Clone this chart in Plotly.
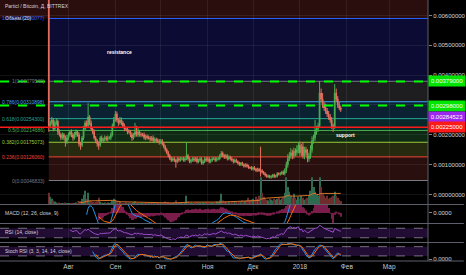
import numpy as np
import pandas as pd
import plotly.graph_objects as go

# ---------------- data (prices in 1e-5 BTC) ----------------
start_date = "2017-07-19"
first_open_e5 = 680
close_e5 = [
    230,
    240, 250, 220, 240, 245,
    210, 200, 190, 200, 190,
    175,
    190, 200, 210, 200, 190, 200, 210, 200,
    170, 165,
    190, 220, 240, 230,
    260,
    240, 220, 210, 190, 180, 170,
    165,
    190, 180, 185, 190, 185, 190, 190, 200,
    230, 250, 270,
    250, 240, 250, 240,
    230, 220, 220, 210, 210,
    200, 190, 200, 210, 200, 210, 200,
    200, 200, 190, 195, 190, 190, 185, 190, 180, 185, 180, 180, 175, 180,
    170, 160, 150, 140, 130, 120, 115,
    120, 115, 110, 120, 115, 120,
    120, 115, 120, 130, 120, 110, 115, 120, 115, 120, 110,
    115, 120, 105, 110, 120, 115, 120, 110, 115, 120,
    120, 115, 120, 120, 130, 138,
    130, 125, 130, 120, 125, 120,
    115, 110, 115, 110, 105, 100, 105, 100, 95, 100, 95, 90, 90,
    85, 90, 85, 80, 85, 80,
    80,
    75, 70, 65, 60, 62, 58, 60, 65, 60, 62,
    70, 68, 70, 75, 70, 80,
    100, 120, 130,
    140, 130, 145, 140,
    150, 165, 140, 160, 130, 150, 140,
    120, 130, 150,
    180, 190, 210,
    220, 230,
    340,
    320, 300, 290, 280,
    270, 260, 250,
    230, 225,
    340,
    320, 300, 290, 284.523,
]
upper_wick_e5 = [
    40, 8, 10, 6, 8, 10, 6, 8, 6, 8,
    6, 8, 10, 8, 6, 8, 6, 10, 8, 6,
    8, 6, 6, 10, 8, 8, 46, 6, 8, 6,
    8, 6, 6, 8, 6, 8, 6, 8, 6, 8,
    6, 8, 8, 10, 10, 8, 6, 10, 8, 6,
    8, 6, 6, 8, 6, 8, 6, 30, 20, 15,
    6, 8, 6, 8, 6, 6, 8, 6, 6, 8,
    6, 6, 8, 6, 6, 6, 5, 6, 5, 6,
    5, 6, 5, 6, 5, 6, 5, 6, 5, 6,
    5, 45, 6, 5, 6, 5, 6, 5, 6, 5,
    6, 5, 6, 5, 6, 5, 6, 5, 6, 5,
    6, 5, 6, 5, 8, 6, 5, 6, 5, 6,
    5, 6, 5, 6, 5, 4, 5, 4, 5, 4,
    5, 4, 5, 4, 5, 4, 5, 4, 5, 4,
    80, 5, 4, 5, 4, 5, 4, 5, 4, 5,
    4, 5, 4, 5, 4, 6, 8, 10, 15, 12,
    15, 10, 12, 10, 15, 10, 12, 10, 15, 10,
    10, 12, 10, 15, 15, 10, 40, 10, 10, 40,
    15, 20, 10, 15, 10, 10, 10, 10, 8, 30,
    15, 10, 10, 8,
]
lower_wick_e5 = [
    20, 8, 6, 8, 6, 8, 10, 6, 8, 6,
    8, 15, 6, 8, 6, 8, 10, 6, 8, 6,
    10, 15, 6, 8, 6, 8, 6, 8, 6, 8,
    6, 8, 10, 15, 6, 8, 6, 8, 6, 8,
    6, 8, 6, 8, 6, 8, 10, 6, 8, 6,
    8, 6, 8, 6, 8, 10, 6, 8, 6, 8,
    6, 8, 6, 6, 8, 6, 6, 8, 6, 6,
    8, 6, 6, 8, 6, 6, 5, 6, 5, 6,
    5, 6, 5, 6, 20, 5, 6, 5, 6, 5,
    6, 5, 6, 5, 6, 5, 6, 5, 6, 5,
    6, 5, 6, 5, 6, 5, 6, 5, 6, 5,
    6, 5, 6, 5, 6, 5, 6, 5, 6, 5,
    6, 5, 6, 5, 4, 5, 4, 5, 4, 5,
    4, 5, 4, 5, 4, 5, 4, 5, 4, 5,
    20, 5, 4, 5, 4, 5, 4, 5, 4, 5,
    4, 5, 4, 5, 4, 5, 6, 8, 10, 8,
    10, 12, 10, 12, 10, 12, 10, 12, 10, 12,
    10, 12, 10, 10, 10, 10, 10, 10, 10, 5,
    10, 10, 10, 10, 10, 10, 10, 10, 15, 5,
    10, 10, 8, 8,
]
volume = [
    120, 80, 60, 40, 30,
    20, 15, 20, 15, 10, 15, 20, 15, 10, 15, 12, 10, 15, 20, 15,
    20, 30, 60, 100, 140, 60, 120, 40, 30, 25,
    20, 25, 30, 70, 25, 20, 15, 20, 15, 20,
    15, 20, 40, 60, 50, 30, 20, 25, 20, 15,
    15, 20, 15, 15, 20, 15, 20, 30, 20, 15,
    15, 12, 10, 15, 12, 10, 12, 15, 10, 12,
    10, 12, 15, 10, 12, 20, 25, 30, 20, 25,
    15, 20, 15, 25, 40, 15, 20, 15, 20, 15,
    20, 90, 30, 15, 20, 15, 20, 15, 25, 15,
    20, 15, 20, 15, 25, 15, 20, 15, 20, 15,
    20, 30, 25, 40, 110, 40, 30, 25, 20, 25,
    20, 25, 20, 30, 25, 20, 30, 25, 40, 30,
    35, 40, 70, 40, 50, 60, 40, 80, 60, 90,
    280, 120, 80, 60, 50, 40, 60, 50, 40, 60,
    50, 60, 70, 50, 60, 80, 120, 280, 180, 130,
    90, 70, 110, 70, 50, 80, 60, 90, 70, 50,
    60, 70, 90, 140, 280, 180, 130, 100, 90, 280,
    180, 110, 90, 70, 90, 60, 70, 80, 90, 130,
    90, 70, 50, 35,
]
assert len(close_e5) == len(upper_wick_e5) == len(lower_wick_e5) == len(volume)

fib_ratios = ["0", "0.236", "0.382", "0.5", "0.618", "0.786", "1", "1.618"]
fib_prices = [0.00046833, 0.00126060, 0.00175073, 0.00214686, 0.00254300,
              0.00310898, 0.00379540, 0.00590077]
fib_line_colors = ["#787b86", "#f44336", "#9ccc3a", "#4caf50", "#26a69a",
                   "#42a5f5", "#787b86", "#2962ff"]
fib_band_colors = ["#2a0f0f", "#262a0e", "#0f2a14", "#08282a", "#0b2233",
                   "#1e1e21", "#0b0b33", "#2a0d0d"]
fib_top = 0.0080

green_levels = [0.00379, 0.00298]
red_levels = [0.00225]
right_labels = ["0.00379000", "0.00298000", "0.00284523", "0.00225000"]
# label positions on the price scale (the purple last-price tag is nudged down
# so it doesn't sit on top of the 0.00298 tag, as on the reference)
right_label_pos = [0.00379, 0.00298, 0.002605, 0.00225]
right_label_colors = ["#00e600", "#00e600", "#9c27f0", "#ff1a1a"]

price_ticks = [0.0, 0.001, 0.002, 0.003, 0.004, 0.005, 0.006]
month_ticks = ["2017-08-01", "2017-09-01", "2017-10-01", "2017-11-01",
               "2017-12-01", "2018-01-01", "2018-02-01", "2018-03-01"]
month_labels = ["Авг", "Сен", "Окт", "Ноя", "Дек", "2018", "Фев", "Мар"]

# ---------------- derived series ----------------
dates = pd.date_range(start_date, periods=len(close_e5), freq="D")
close = np.array(close_e5, dtype=float) * 1e-5
opens = np.concatenate([[first_open_e5 * 1e-5], close[:-1]])
high = np.maximum(opens, close) + np.array(upper_wick_e5) * 1e-5
low = np.minimum(opens, close) - np.array(lower_wick_e5) * 1e-5

s = pd.Series(close)
ema12 = s.ewm(span=12, adjust=False).mean()
ema26 = s.ewm(span=26, adjust=False).mean()
macd = ema12 - ema26
signal = macd.ewm(span=9, adjust=False).mean()
hist = macd - signal
macd[:25] = np.nan
signal[:33] = np.nan
hist[:33] = np.nan

delta = s.diff()
gain = delta.clip(lower=0)
loss = -delta.clip(upper=0)
ag = gain.ewm(alpha=1 / 14, adjust=False).mean()
al = loss.ewm(alpha=1 / 14, adjust=False).mean()
rsi = 100 - 100 / (1 + ag / al)
rsi[:14] = np.nan
lo = rsi.rolling(14).min()
hi = rsi.rolling(14).max()
stoch = 100 * (rsi - lo) / (hi - lo)
k = stoch.rolling(3).mean()
d = k.rolling(3).mean()

vol = pd.Series(volume, dtype=float)
vol_ma = vol.rolling(20).mean()
vol_colors = ["#2d6a4f" if c >= o else "#6e2c2c" for o, c in zip(opens, close)]

# ---------------- layout geometry ----------------
W, H = 466, 275
ML, MR, MT, MB = 0, 36, 0, 14
PW, PH = W - ML - MR, H - MT - MB


def py(px):  # pixel row (from top of plot area) -> paper y
    return 1 - px / PH


x_left = pd.Timestamp(start_date) - pd.Timedelta(days=32.24)
x_right = pd.Timestamp(start_date) + pd.Timedelta(days=250.66)

fig = go.Figure()

fig.add_trace(go.Bar(x=dates, y=volume, marker_color=vol_colors,
                     marker_line_width=0, xaxis="x", yaxis="y",
                     showlegend=False, hoverinfo="skip"))
fig.add_trace(go.Scatter(x=dates, y=vol_ma, mode="lines",
                         line=dict(color="#d9762b", width=1),
                         xaxis="x", yaxis="y", showlegend=False))
fig.add_trace(go.Candlestick(
    x=dates, open=opens, high=high, low=low, close=close,
    increasing=dict(line=dict(color="#4cb050", width=1), fillcolor="#4cb050"),
    decreasing=dict(line=dict(color="#e8705f", width=1), fillcolor="#e8705f"),
    whiskerwidth=0, xaxis="x", yaxis="y2", showlegend=False))

fig.add_trace(go.Bar(x=dates, y=hist, marker_color="#7a1d4a",
                     marker_line_width=0, xaxis="x", yaxis="y3", showlegend=False))
fig.add_trace(go.Scatter(x=dates, y=macd, mode="lines",
                         line=dict(color="#2196f3", width=1),
                         xaxis="x", yaxis="y3", showlegend=False))
fig.add_trace(go.Scatter(x=dates, y=signal, mode="lines",
                         line=dict(color="#ff6d00", width=1),
                         xaxis="x", yaxis="y3", showlegend=False))
fig.add_trace(go.Scatter(x=dates, y=rsi, mode="lines",
                         line=dict(color="#9c4dcc", width=1),
                         xaxis="x", yaxis="y4", showlegend=False))
fig.add_trace(go.Scatter(x=dates, y=k, mode="lines",
                         line=dict(color="#2196f3", width=1),
                         xaxis="x", yaxis="y5", showlegend=False))
fig.add_trace(go.Scatter(x=dates, y=d, mode="lines",
                         line=dict(color="#ff6d00", width=1),
                         xaxis="x", yaxis="y5", showlegend=False))

shapes = []
band_edges = fib_prices + [fib_top]
n_bands = len(fib_prices)
for i in range(n_bands):
    top_band = i == n_bands - 1
    shapes.append(dict(type="rect", xref="paper" if top_band else "x", yref="y2",
                       x0=0 if top_band else start_date,
                       x1=1 if top_band else x_right + pd.Timedelta(days=30),
                       y0=band_edges[i], y1=band_edges[i + 1],
                       fillcolor=fib_band_colors[i], line_width=0, layer="below"))
for p, c in zip(fib_prices, fib_line_colors):
    shapes.append(dict(type="line", xref="x", yref="y2", x0=start_date,
                       x1=x_right + pd.Timedelta(days=30), y0=p, y1=p,
                       line=dict(color=c, width=1), layer="below"))
for p in green_levels:
    shapes.append(dict(type="line", xref="paper", yref="y2", x0=0, x1=1,
                       y0=p, y1=p, line=dict(color="#00ff00", width=2, dash="dash")))
for p in red_levels:
    shapes.append(dict(type="line", xref="paper", yref="y2", x0=0, x1=1,
                       y0=p, y1=p, line=dict(color="#ff1a1a", width=1.5)))
for yref, lo_v, hi_v in [("y4", 30, 70), ("y5", 20, 80)]:
    shapes.append(dict(type="rect", xref="paper", yref=yref, x0=0, x1=1,
                       y0=lo_v, y1=hi_v, fillcolor="rgba(110,40,170,0.30)",
                       line_width=0, layer="below"))
    for v in (lo_v, hi_v):
        shapes.append(dict(type="line", xref="paper", yref=yref, x0=0, x1=1,
                           y0=v, y1=v, layer="below",
                           line=dict(color="rgba(200,200,210,0.55)", width=1, dash="dash")))
for px in (204.5, 223.5, 242.5, 261):
    shapes.append(dict(type="line", xref="paper", yref="paper", x0=0,
                       x1=1 + MR / PW, y0=py(px), y1=py(px),
                       line=dict(color="#5d606b", width=1)))
shapes.append(dict(type="line", xref="paper", yref="paper", x0=1, x1=1,
                   y0=0, y1=1, line=dict(color="#5d606b", width=1)))

ann = []
txt = "#d1d4dc"
ann.append(dict(text="Particl / Bitcoin, Д, BITTREX", xref="paper", yref="paper",
                x=3 / PW, y=py(6), xanchor="left", yanchor="middle", showarrow=False,
                font=dict(size=5, color=txt)))
for r, p, c in zip(fib_ratios, fib_prices, fib_line_colors):
    ann.append(dict(text=f"{r}({p:.8f})", xref="x", yref="y2",
                    x=pd.Timestamp(start_date) - pd.Timedelta(days=1.3), y=p,
                    xanchor="right", yanchor="middle", showarrow=False,
                    font=dict(size=5, color=c)))
ann.append(dict(text="Объем (20)", xref="paper", yref="paper",
                x=3 / PW, y=py(18), xanchor="left", yanchor="middle", showarrow=False,
                font=dict(size=5, color=txt)))
ann.append(dict(text="<b>resistance</b>", xref="x", yref="y2", x="2017-09-04", y=0.00477,
                showarrow=False, font=dict(size=5, color="#ffffff")))
ann.append(dict(text="<b>support</b>", xref="x", yref="y2", x="2018-01-31", y=0.00198,
                showarrow=False, font=dict(size=5, color="#ffffff")))
for t, p, c in zip(right_labels, right_label_pos, right_label_colors):
    ann.append(dict(text=t, xref="paper", yref="y2", x=1.0, y=p,
                    xanchor="left", yanchor="middle", showarrow=False,
                    bgcolor=c, borderpad=2, width=32,
                    font=dict(size=6, color="#ffffff")))
for t, px in [("MACD (12, 26, close, 9)", 213), ("RSI (14, close)", 232),
              ("Stoch RSI (3, 3, 14, 14, close)", 251)]:
    ann.append(dict(text=t, xref="paper", yref="paper", x=3 / PW, y=py(px),
                    xanchor="left", yanchor="middle", showarrow=False,
                    font=dict(size=5, color=txt)))

grid = "rgba(255,255,255,0.07)"
fig.update_layout(
    width=W, height=H, margin=dict(l=ML, r=MR, t=MT, b=MB),
    paper_bgcolor="#000000", plot_bgcolor="#000000",
    font=dict(family="Liberation Sans, Arial", color=txt),
    bargap=0.3, showlegend=False, shapes=shapes, annotations=ann,
    xaxis=dict(type="date", range=[x_left, x_right], anchor="y5",
               tickvals=month_ticks, ticktext=month_labels,
               showgrid=True, gridcolor=grid, ticks="",
               tickfont=dict(size=6.5, color="#c8c8c8"),
               rangeslider=dict(visible=False), showline=False, zeroline=False),
    yaxis=dict(domain=[py(204.5), 1], range=[0, 2100], visible=False,
               fixedrange=True),
    yaxis2=dict(overlaying="y", side="right", anchor="x",
                range=[-0.000336, 0.00652], tickvals=price_ticks,
                ticktext=[f"{v:.8f}" for v in price_ticks],
                showgrid=True, gridcolor=grid, zeroline=False,
                ticks="outside", ticklen=3, tickcolor="#808080",
                tickfont=dict(size=6, color="#d8d8d8")),
    yaxis3=dict(domain=[py(223.5), py(204.5)], anchor="x", side="right",
                range=[-0.00007, 0.000056], tickvals=[0], ticktext=["0.0000"],
                showgrid=False, zeroline=False, ticks="outside", ticklen=3,
                tickcolor="#808080", tickfont=dict(size=6, color="#d8d8d8")),
    yaxis4=dict(domain=[py(242.5), py(223.5)], anchor="x", side="right",
                range=[10, 90], showticklabels=False, showgrid=False,
                zeroline=False),
    yaxis5=dict(domain=[0, py(242.5)], anchor="x", side="right",
                range=[-13, 107], tickvals=[0], ticktext=["0.0000"],
                showgrid=False, zeroline=False, ticks="outside", ticklen=3,
                tickcolor="#808080", tickfont=dict(size=6, color="#d8d8d8")),
)

fig.write_html("out.html")
